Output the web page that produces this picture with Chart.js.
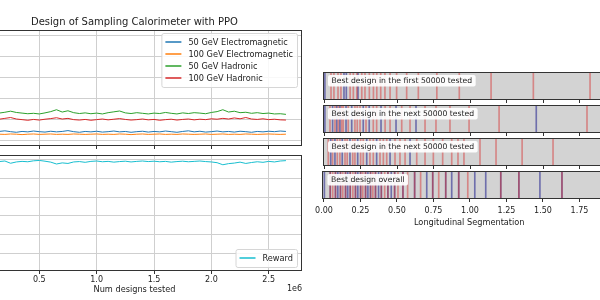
<!DOCTYPE html>
<html>
<head>
<meta charset="utf-8">
<script src="https://cdn.jsdelivr.net/npm/chart.js@4.4.1/dist/chart.umd.min.js"></script>
<style>
  html, body { margin: 0; padding: 0; background: #fff; overflow: hidden; }
  body { width: 600px; height: 300px; position: relative; }
  canvas { position: absolute; display: block; }
</style>
</head>
<body>
<canvas id="energy" width="337" height="150" style="left:-34px;top:0"></canvas>
<canvas id="reward" width="337" height="150" style="left:-34px;top:150px"></canvas>
<canvas id="strip0" width="325" height="32" style="left:315px;top:72px"></canvas>
<canvas id="strip1" width="325" height="32" style="left:315px;top:105px"></canvas>
<canvas id="strip2" width="325" height="32" style="left:315px;top:138px"></canvas>
<canvas id="strip3" width="325" height="60" style="left:311px;top:171px"></canvas>
<script>
// Num designs tested (x 1e6)
const designs = [0, 0.05, 0.1, 0.15, 0.2, 0.25, 0.3, 0.35, 0.4, 0.45, 0.5, 0.55, 0.6, 0.65, 0.7, 0.75, 0.8, 0.85, 0.9, 0.95,
  1, 1.05, 1.1, 1.15, 1.2, 1.25, 1.3, 1.35, 1.4, 1.45, 1.5, 1.55, 1.6, 1.65, 1.7, 1.75, 1.8, 1.85, 1.9, 1.95,
  2, 2.05, 2.1, 2.15, 2.2, 2.25, 2.3, 2.35, 2.4, 2.45, 2.5, 2.55, 2.6, 2.65];

const em50 = [0.42, 0.45, 0.41, 0.44, 0.47, 0.43, 0.40, 0.44, 0.42, 0.46, 0.43, 0.41, 0.45, 0.42, 0.44, 0.48, 0.43, 0.40, 0.44, 0.42,
  0.45, 0.41, 0.43, 0.46, 0.42, 0.44, 0.40, 0.43, 0.45, 0.41, 0.44, 0.42, 0.46, 0.43, 0.40, 0.44, 0.47, 0.42, 0.45, 0.41,
  0.43, 0.46, 0.42, 0.44, 0.41, 0.45, 0.43, 0.40, 0.44, 0.42, 0.45, 0.43, 0.46, 0.44];
const em100 = [0.31, 0.30, 0.32, 0.31, 0.30, 0.32, 0.31, 0.29, 0.31, 0.32, 0.30, 0.31, 0.32, 0.30, 0.31, 0.30, 0.32, 0.31, 0.30, 0.31,
  0.32, 0.30, 0.31, 0.30, 0.32, 0.31, 0.29, 0.31, 0.32, 0.30, 0.31, 0.32, 0.30, 0.31, 0.30, 0.32, 0.31, 0.30, 0.31, 0.32,
  0.30, 0.31, 0.32, 0.30, 0.31, 0.30, 0.32, 0.31, 0.30, 0.31, 0.32, 0.31, 0.30, 0.31];
const had50 = [1.30, 1.28, 1.33, 1.31, 1.35, 1.40, 1.34, 1.31, 1.28, 1.30, 1.27, 1.32, 1.38, 1.47, 1.36, 1.42, 1.33, 1.29, 1.32, 1.28,
  1.31, 1.27, 1.33, 1.37, 1.41, 1.32, 1.29, 1.33, 1.30, 1.27, 1.31, 1.29, 1.34, 1.30, 1.27, 1.32, 1.29, 1.33, 1.31, 1.28,
  1.34, 1.38, 1.47, 1.36, 1.40, 1.33, 1.35, 1.30, 1.33, 1.29, 1.31, 1.27, 1.28, 1.25];
const had100 = [1.00, 1.03, 0.99, 1.02, 1.06, 1.10, 1.03, 1.00, 0.97, 1.01, 0.98, 1.02, 1.05, 1.09, 1.03, 1.06, 1.00, 0.98, 1.01, 0.97,
  1.00, 1.03, 0.99, 1.02, 1.05, 1.01, 0.98, 1.00, 1.03, 0.99, 1.01, 0.97, 1.00, 1.02, 0.98, 1.01, 1.03, 0.99, 1.02, 1.00,
  1.04, 1.02, 1.06, 1.03, 1.08, 1.04, 1.10, 1.03, 1.01, 1.04, 1.00, 1.02, 0.99, 0.98];
const reward = [-0.10, -0.12, -0.09, -0.11, -0.08, -0.20, -0.13, -0.10, -0.12, -0.07, -0.05, -0.09, -0.14, -0.24, -0.18, -0.21, -0.13, -0.11, -0.15, -0.10,
  -0.08, -0.12, -0.10, -0.14, -0.11, -0.09, -0.13, -0.10, -0.08, -0.11, -0.09, -0.12, -0.10, -0.14, -0.11, -0.09, -0.12, -0.10, -0.08, -0.11,
  -0.13, -0.17, -0.28, -0.22, -0.19, -0.14, -0.21, -0.16, -0.12, -0.15, -0.10, -0.13, -0.08, -0.06];

const designTicks = [0, 0.5, 1, 1.5, 2, 2.5];
const energyTicks = [0, 1, 2, 3, 4, 5];
const rewardTicks = [-5, -4, -3, -2, -1, 0];
const segTicks = [0, 0.25, 0.5, 0.75, 1, 1.25, 1.5, 1.75, 2];

const stripLabels = [
  'Best design in the first 50000 tested',
  'Best design in the next 50000 tested',
  'Best design in the next 50000 tested',
  'Best design overall',
];
// layer boundaries along the longitudinal axis (red / blue)
const stripRed = [
  [0.045, 0.065, 0.093, 0.113, 0.176, 0.198, 0.222, 0.256, 0.278, 0.308, 0.336, 0.359, 0.386, 0.415, 0.450, 0.495, 0.564, 0.644, 0.771, 0.925, 1.143, 1.433, 1.822],
  [0.038, 0.072, 0.095, 0.118, 0.129, 0.163, 0.209, 0.225, 0.244, 0.285, 0.335, 0.358, 0.416, 0.450, 0.530, 0.587, 0.690, 0.765, 0.861, 0.992, 1.198, 1.801],
  [0.026, 0.056, 0.088, 0.106, 0.141, 0.156, 0.194, 0.209, 0.248, 0.266, 0.312, 0.335, 0.381, 0.404, 0.427, 0.484, 0.518, 0.553, 0.633, 0.690, 0.747, 0.811, 0.873, 0.916, 0.957, 1.067, 1.177, 1.356, 1.568],
  [0.043, 0.060, 0.079, 0.113, 0.129, 0.148, 0.180, 0.198, 0.216, 0.251, 0.266, 0.285, 0.319, 0.335, 0.353, 0.393, 0.416, 0.438, 0.484, 0.507, 0.541, 0.573, 0.621, 0.662, 0.745, 0.786, 0.834, 0.923, 0.985, 1.211, 1.335, 1.630],
];
const stripBlue = [
  [0.003, 0.134, 0.150, 0.230],
  [0.003, 0.056, 0.084, 0.106, 0.148, 0.187, 0.266, 0.307, 0.388, 0.491, 0.628, 1.453],
  [0.043, 0.072, 0.122, 0.175, 0.228, 0.290, 0.358, 0.450, 0.587],
  [0.003, 0.043, 0.079, 0.095, 0.113, 0.148, 0.163, 0.180, 0.216, 0.232, 0.251, 0.285, 0.301, 0.319, 0.353, 0.374, 0.393, 0.438, 0.461, 0.484, 0.541, 0.621, 0.704, 0.745, 0.834, 0.875, 0.923, 1.033, 1.108, 1.211, 1.335, 1.479, 1.630],
];

const FONT = 'DejaVu Sans';
Chart.defaults.font.family = FONT;
Chart.defaults.color = '#222';
Chart.defaults.animation = false;

const GRID = '#cfcfcf';
const EDGE = '#333';

// box round the plot area, optional background, tag box and "1e6" offset text
const framePlugin = {
  id: 'frame',
  beforeDraw(chart, args, opts) {
    if (!opts.fill) return;
    const { ctx, chartArea: a } = chart;
    ctx.save();
    ctx.fillStyle = opts.fill;
    ctx.fillRect(a.left, a.top, a.width, a.height);
    ctx.restore();
  },
  afterDatasetsDraw(chart, args, opts) {
    const { ctx, chartArea: a } = chart;
    ctx.save();
    ctx.strokeStyle = EDGE;
    ctx.lineWidth = 1;
    ctx.strokeRect(Math.round(a.left) + 0.5, Math.round(a.top) + 0.5, Math.round(a.width) - 1, Math.round(a.height) - 1);
    if (opts.offsetText) {
      ctx.font = `8px "${FONT}"`;
      ctx.fillStyle = '#222';
      ctx.textAlign = 'right';
      ctx.textBaseline = 'middle';
      ctx.fillText(opts.offsetText, a.right, a.bottom + 18);
    }
    if (opts.tag) {
      ctx.font = `7.7px "${FONT}"`;
      const w = ctx.measureText(opts.tag).width;
      const x = a.left + 5, y = a.top + 3;
      ctx.fillStyle = 'rgba(255,255,255,0.92)';
      ctx.beginPath();
      ctx.roundRect(x, y, w + 7, 11.5, 2);
      ctx.fill();
      ctx.fillStyle = '#222';
      ctx.textBaseline = 'middle';
      ctx.fillText(opts.tag, x + 3.5, y + 6);
    }
    ctx.restore();
  },
};

// matplotlib-like legend drawn inside the plot area
const boxLegend = {
  id: 'boxLegend',
  afterDraw(chart, args, opts) {
    if (!opts.corner) return;
    const { ctx, chartArea: a } = chart;
    const sets = chart.data.datasets;
    ctx.save();
    ctx.font = `8.2px "${FONT}"`;
    const rowH = 12, handle = 16, gap = 7, pad = 4;
    const textW = Math.max(...sets.map((d) => ctx.measureText(d.label).width));
    const w = pad + handle + gap + textW + pad;
    const h = pad * 2 + rowH * sets.length - 2;
    const x = a.right - 5 - w;
    const y = opts.corner === 'br' ? a.bottom - 4 - h : a.top + 3;
    ctx.fillStyle = 'rgba(255,255,255,0.85)';
    ctx.strokeStyle = '#d6d6d6';
    ctx.lineWidth = 1;
    ctx.beginPath();
    ctx.roundRect(x + 0.5, y + 0.5, w, h, 2);
    ctx.fill();
    ctx.stroke();
    sets.forEach((d, i) => {
      const cy = y + pad + rowH * i + rowH / 2 - 1;
      ctx.strokeStyle = d.borderColor;
      ctx.lineWidth = 1.5;
      ctx.beginPath();
      ctx.moveTo(x + pad, cy);
      ctx.lineTo(x + pad + handle, cy);
      ctx.stroke();
      ctx.fillStyle = '#222';
      ctx.textBaseline = 'middle';
      ctx.fillText(d.label, x + pad + handle + gap, cy + 0.5);
    });
    ctx.restore();
  },
};

function series(label, values, color) {
  return {
    label,
    data: values.map((v, i) => ({ x: designs[i], y: v })),
    borderColor: color,
    borderWidth: 1,
    pointRadius: 0,
    tension: 0,
  };
}

function lineOptions(yMin, yMax, yTicks, bottom) {
  return {
    responsive: false,
    layout: { padding: bottom ? { left: 1, right: 1, top: 5, bottom: 0 } : { left: 1, right: 1, top: 0, bottom: 0 } },
    plugins: {
      legend: { display: false },
      tooltip: { enabled: false },
      title: bottom ? { display: false } : {
        display: true,
        text: 'Design of Sampling Calorimeter with PPO',
        font: { size: 10, weight: 'normal' },
        color: '#222',
        padding: { top: 16, bottom: 2 },
      },
      frame: bottom ? { offsetText: '1e6' } : {},
      boxLegend: { corner: bottom ? 'br' : 'tr' },
    },
    scales: {
      x: {
        type: 'linear',
        min: -0.13,
        max: 2.79,
        afterBuildTicks: (s) => { s.ticks = designTicks.map((v) => ({ value: v })); },
        afterFit: (s) => { s.height = bottom ? 29 : 4; },
        grid: { color: GRID, tickLength: 3, tickColor: EDGE },
        border: { display: false },
        ticks: {
          display: bottom,
          autoSkip: false,
          maxRotation: 0,
          padding: 1,
          font: { size: 8 },
          callback: (v) => Number(v).toFixed(1),
        },
        title: bottom ? {
          display: true,
          text: 'Num designs tested',
          font: { size: 8.2 },
          padding: { top: 0, bottom: 5 },
        } : { display: false },
      },
      y: {
        min: yMin,
        max: yMax,
        afterBuildTicks: (s) => { s.ticks = yTicks.map((v) => ({ value: v })); },
        afterFit: (s) => { s.width = 0; },
        grid: { color: GRID, drawTicks: false },
        border: { display: false },
        ticks: { display: false },
      },
    },
  };
}

new Chart(document.getElementById('energy'), {
  type: 'line',
  data: {
    datasets: [
      series('50 GeV Electromagnetic', em50, '#1f77b4'),
      series('100 GeV Electromagnetic', em100, '#ff7f0e'),
      series('50 GeV Hadronic', had50, '#2ca02c'),
      series('100 GeV Hadronic', had100, '#d62728'),
    ],
  },
  options: lineOptions(-0.25, 5.25, energyTicks, false),
  plugins: [framePlugin, boxLegend],
});

new Chart(document.getElementById('reward'), {
  type: 'line',
  data: { datasets: [series('Reward', reward, '#17becf')] },
  options: lineOptions(-5.94, 0.24, rewardTicks, true),
  plugins: [framePlugin, boxLegend],
});

// segmentation strips
stripLabels.forEach((tag, k) => {
  const last = k === stripLabels.length - 1;
  const bars = (vals, color) => ({
    data: vals.map((v) => ({ x: v, y: 1 })),
    backgroundColor: color,
    barThickness: 1,
    grouped: false,
  });
  new Chart(document.getElementById('strip' + k), {
    type: 'bar',
    data: {
      datasets: [
        bars(stripRed[k], 'rgba(214,39,40,0.45)'),
        bars(stripBlue[k], 'rgba(30,30,140,0.55)'),
      ],
    },
    options: {
      responsive: false,
      layout: { padding: { left: 8, right: last ? 20 : 24, top: 0, bottom: 0 } },
      plugins: {
        legend: { display: false },
        tooltip: { enabled: false },
        frame: { fill: '#d3d3d3', tag },
      },
      scales: {
        x: {
          type: 'linear',
          offset: false,
          min: -0.01,
          max: 2.0,
          afterBuildTicks: (s) => { s.ticks = segTicks.map((v) => ({ value: v })); },
          afterFit: (s) => { s.height = last ? 32 : 4; },
          grid: { offset: false, drawOnChartArea: false, tickLength: 3, tickColor: EDGE },
          border: { display: false },
          ticks: {
            display: last,
            autoSkip: false,
            maxRotation: 0,
            padding: 4,
            font: { size: 8 },
            callback: (v) => Number(v).toFixed(2),
          },
          title: last ? {
            display: true,
            text: 'Longitudinal Segmentation',
            font: { size: 8.2 },
            padding: { top: 0, bottom: 3 },
          } : { display: false },
        },
        y: { display: false, min: 0, max: 1 },
      },
    },
    plugins: [framePlugin],
  });
});
</script>
</body>
</html>
